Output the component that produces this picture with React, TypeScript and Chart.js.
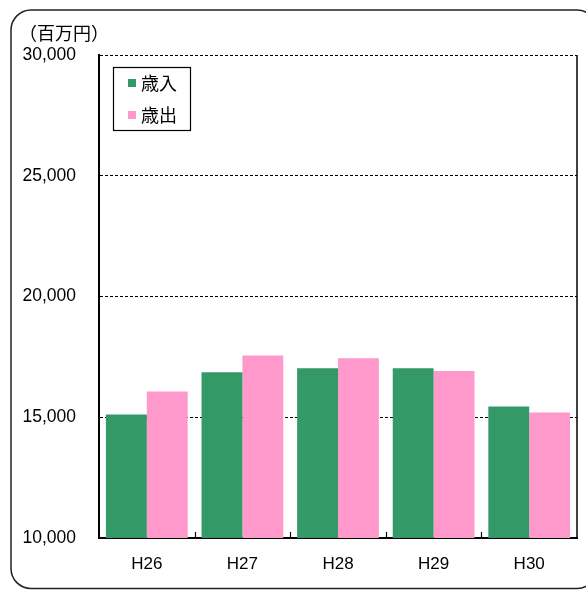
import { useEffect, useRef } from "react";
import { Chart, registerables } from "chart.js";

Chart.register(...registerables);

// Fiscal years (Heisei era)
const years = ["H26", "H27", "H28", "H29", "H30"];
// Revenue and expenditure, in millions of yen
const revenue = [15110, 16860, 17030, 17030, 15440];
const expenditure = [16070, 17560, 17440, 16910, 15200];
const seriesNames = ["歳入", "歳出"];
const seriesColors = ["#339966", "#FF99CC"];
const unitLabel = "（百万円）";
const yMin = 10000;
const yMax = 30000;
const yStep = 5000;

const latinFont = '"Liberation Sans", Arial, sans-serif';
const cjkFont = '"Noto Sans CJK JP", sans-serif';

const decorations = {
  id: "decorations",
  afterDraw(chart: any) {
    const { ctx, chartArea: a, scales } = chart;
    ctx.save();

    // rounded outer frame
    ctx.strokeStyle = "#222";
    ctx.lineWidth = 1.5;
    ctx.beginPath();
    ctx.roundRect(11, 10, 586, 578.5, 20);
    ctx.stroke();

    // right edge of the plot area
    ctx.strokeStyle = "#000";
    ctx.lineWidth = 1.5;
    ctx.beginPath();
    ctx.moveTo(a.right, a.top);
    ctx.lineTo(a.right, a.bottom);
    ctx.stroke();

    // short separators between categories on the x axis
    const xs = scales.x;
    ctx.lineWidth = 1.2;
    for (let i = 1; i < xs.ticks.length; i++) {
      const px = Math.round((xs.getPixelForTick(i - 1) + xs.getPixelForTick(i)) / 2) + 0.5;
      ctx.beginPath();
      ctx.moveTo(px, a.bottom - 6);
      ctx.lineTo(px, a.bottom);
      ctx.stroke();
    }

    // unit label
    ctx.fillStyle = "#000";
    ctx.font = `18px ${cjkFont}`;
    ctx.textAlign = "left";
    ctx.textBaseline = "middle";
    ctx.fillText(unitLabel, 19, 33);

    // legend box inside the plot
    ctx.fillStyle = "#fff";
    ctx.fillRect(113.5, 67.5, 77, 63);
    ctx.strokeStyle = "#000";
    ctx.lineWidth = 1.2;
    ctx.strokeRect(113.5, 67.5, 77, 63);
    chart.data.datasets.forEach((ds: any, i: number) => {
      const cy = 83 + i * 32;
      ctx.fillStyle = ds.backgroundColor;
      ctx.fillRect(128, cy - 4, 8, 8);
      ctx.fillStyle = "#000";
      ctx.font = `18px ${cjkFont}`;
      ctx.fillText(ds.label, 141, cy);
    });

    ctx.restore();
  },
};

export default function App() {
  const canvasRef = useRef<HTMLCanvasElement | null>(null);

  useEffect(() => {
    const canvas = canvasRef.current;
    if (!canvas) return;
    const chart = new Chart(canvas, {
      type: "bar",
      data: {
        labels: years,
        datasets: [
          { label: seriesNames[0], data: revenue, backgroundColor: seriesColors[0], borderWidth: 0 },
          { label: seriesNames[1], data: expenditure, backgroundColor: seriesColors[1], borderWidth: 0 },
        ],
      },
      options: {
        responsive: false,
        animation: false,
        devicePixelRatio: 1,
        layout: { padding: { left: 0, top: 55, right: 9, bottom: 0 } },
        datasets: { bar: { categoryPercentage: 0.855, barPercentage: 1 } },
        plugins: { legend: { display: false }, tooltip: { enabled: false } },
        scales: {
          x: {
            grid: { display: true, drawOnChartArea: false, drawTicks: false },
            border: { display: true, color: "#000", width: 2 },
            ticks: { color: "#000", font: { family: latinFont, size: 17 }, padding: 16 },
            afterFit: (s: any) => {
              s.height = 52;
            },
          },
          y: {
            min: yMin,
            max: yMax,
            grid: { color: "#000", lineWidth: 1, drawTicks: false },
            border: { display: true, color: "#000", width: 2, dash: [3, 2] },
            ticks: {
              stepSize: yStep,
              color: "#000",
              padding: 23,
              font: { family: latinFont, size: 17.5 },
              callback: (v: any) => Number(v).toLocaleString("en-US"),
            },
            afterFit: (s: any) => {
              s.width = 99;
            },
          },
        },
      },
      plugins: [decorations],
    });
    return () => chart.destroy();
  }, []);

  return (
    <div style={{ position: "fixed", left: 0, top: 0, width: 586, height: 590, background: "#fff" }}>
      <canvas ref={canvasRef} width={586} height={590} style={{ display: "block" }} />
    </div>
  );
}
